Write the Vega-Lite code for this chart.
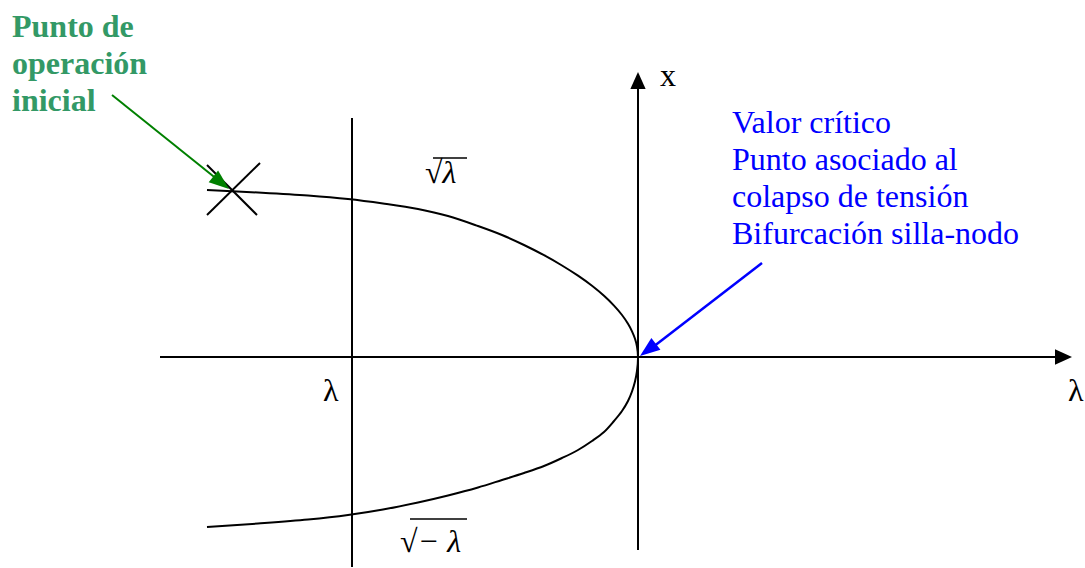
{
  "$schema": "https://vega.github.io/schema/vega-lite/v6.json",
  "width": 1085,
  "height": 568,
  "autosize": {"type": "fit", "contains": "padding"},
  "padding": 0,
  "background": "white",
  "config": {"view": {"stroke": null}},
  "datasets": {
    "segBlack": [
      {"l": -9.56, "v": 0, "l2": 8.4, "v2": 0},
      {"l": 0, "v": -3.86, "l2": 0, "v2": 5.5},
      {"l": -5.72, "v": 4.78, "l2": -5.72, "v2": -4.2},
      {"l": -8.62, "v": 3.84, "l2": -7.62, "v2": 2.84},
      {"l": -8.62, "v": 2.84, "l2": -7.56, "v2": 3.88}
    ],
    "overlines": [
      {"l": -4.1, "v": 3.98, "l2": -3.42, "v2": 3.98},
      {"l": -4.56, "v": -3.24, "l2": -3.42, "v2": -3.24}
    ],
    "segGreen": [{"l": -10.52, "v": 5.24, "l2": -8.4, "v2": 3.54}],
    "segBlue": [{"l": 2.48, "v": 1.88, "l2": 0.3, "v2": 0.2}],
    "curve": [
      {"o": 1, "l": -8.62, "v": 3.34},
      {"o": 2, "l": -7.6, "v": 3.29},
      {"o": 3, "l": -6.6, "v": 3.23},
      {"o": 4, "l": -5.8, "v": 3.16},
      {"o": 5, "l": -5.1, "v": 3.07},
      {"o": 6, "l": -4.4, "v": 2.96},
      {"o": 7, "l": -3.8, "v": 2.82},
      {"o": 8, "l": -3.2, "v": 2.62},
      {"o": 9, "l": -2.72, "v": 2.44},
      {"o": 10, "l": -2.28, "v": 2.24},
      {"o": 11, "l": -1.88, "v": 2.036},
      {"o": 12, "l": -1.52, "v": 1.83},
      {"o": 13, "l": -1.2, "v": 1.626},
      {"o": 14, "l": -0.92, "v": 1.424},
      {"o": 15, "l": -0.68, "v": 1.224},
      {"o": 16, "l": -0.48, "v": 1.028},
      {"o": 17, "l": -0.32, "v": 0.84},
      {"o": 18, "l": -0.2, "v": 0.664},
      {"o": 19, "l": -0.12, "v": 0.514},
      {"o": 20, "l": -0.06, "v": 0.364},
      {"o": 21, "l": -0.02, "v": 0.21},
      {"o": 22, "l": 0, "v": 0},
      {"o": 23, "l": -0.02, "v": -0.28},
      {"o": 24, "l": -0.06, "v": -0.49},
      {"o": 25, "l": -0.12, "v": -0.69},
      {"o": 26, "l": -0.2, "v": -0.88},
      {"o": 27, "l": -0.32, "v": -1.08},
      {"o": 28, "l": -0.48, "v": -1.28},
      {"o": 29, "l": -0.68, "v": -1.5},
      {"o": 30, "l": -0.92, "v": -1.68},
      {"o": 31, "l": -1.2, "v": -1.86},
      {"o": 32, "l": -1.52, "v": -2.02},
      {"o": 33, "l": -1.88, "v": -2.18},
      {"o": 34, "l": -2.28, "v": -2.32},
      {"o": 35, "l": -2.72, "v": -2.46},
      {"o": 36, "l": -3.2, "v": -2.61},
      {"o": 37, "l": -3.8, "v": -2.77},
      {"o": 38, "l": -4.4, "v": -2.91},
      {"o": 39, "l": -5.1, "v": -3.05},
      {"o": 40, "l": -5.8, "v": -3.16},
      {"o": 41, "l": -6.6, "v": -3.25},
      {"o": 42, "l": -7.6, "v": -3.33},
      {"o": 43, "l": -8.62, "v": -3.4}
    ],
    "headRight": [{"l": 8.68, "v": 0}],
    "headUp": [{"l": 0, "v": 5.7}],
    "headGreen": [{"l": -8.18, "v": 3.36}],
    "headBlue": [{"l": 0.04, "v": 0.02}],
    "greenText": [
      {"t": "Punto de", "l": -12.52, "v": 6.4},
      {"t": "operación", "l": -12.52, "v": 5.66},
      {"t": "inicial", "l": -12.52, "v": 4.92}
    ],
    "blueText": [
      {"t": "Valor crítico", "l": 1.88, "v": 4.48},
      {"t": "Punto asociado al", "l": 1.88, "v": 3.74},
      {"t": "colapso de tensión", "l": 1.88, "v": 3.0},
      {"t": "Bifurcación silla-nodo", "l": 1.88, "v": 2.26}
    ],
    "plainText": [
      {"t": "x", "l": 0.44, "v": 5.42},
      {"t": "λ", "l": -6.3, "v": -0.88},
      {"t": "λ", "l": 8.6, "v": -0.88}
    ],
    "rootText": [
      {"t": "√λ", "l": -4.26, "v": 3.48},
      {"t": "√− λ", "l": -4.76, "v": -3.9}
    ]
  },
  "encoding": {
    "x": {"field": "l", "type": "quantitative", "scale": {"domain": [-12.76, 8.94], "nice": false, "zero": false}, "axis": null},
    "y": {"field": "v", "type": "quantitative", "scale": {"domain": [-4.22, 7.14], "nice": false, "zero": false}, "axis": null}
  },
  "layer": [
    {
      "data": {"name": "segBlack"},
      "mark": {"type": "rule", "color": "black", "strokeWidth": 2},
      "encoding": {"x2": {"field": "l2"}, "y2": {"field": "v2"}}
    },
    {
      "data": {"name": "overlines"},
      "mark": {"type": "rule", "color": "black", "strokeWidth": 1.3},
      "encoding": {"x2": {"field": "l2"}, "y2": {"field": "v2"}}
    },
    {
      "data": {"name": "segGreen"},
      "mark": {"type": "rule", "color": "#008000", "strokeWidth": 2},
      "encoding": {"x2": {"field": "l2"}, "y2": {"field": "v2"}}
    },
    {
      "data": {"name": "segBlue"},
      "mark": {"type": "rule", "color": "#0000ff", "strokeWidth": 2.5},
      "encoding": {"x2": {"field": "l2"}, "y2": {"field": "v2"}}
    },
    {
      "data": {"name": "curve"},
      "mark": {"type": "line", "color": "black", "strokeWidth": 2, "interpolate": "catmull-rom"},
      "encoding": {"order": {"field": "o", "type": "quantitative"}}
    },
    {
      "data": {"name": "headRight"},
      "mark": {"type": "point", "shape": "M0,0L-2,-0.9L-2,0.9Z", "size": 289, "filled": true, "color": "black", "opacity": 1, "angle": 0}
    },
    {
      "data": {"name": "headUp"},
      "mark": {"type": "point", "shape": "M0,0L-2,-0.9L-2,0.9Z", "size": 289, "filled": true, "color": "black", "opacity": 1, "angle": 270}
    },
    {
      "data": {"name": "headGreen"},
      "mark": {"type": "point", "shape": "M0,0L-2,-0.75L-2,0.75Z", "size": 400, "filled": true, "color": "#008000", "opacity": 1, "angle": 38.8}
    },
    {
      "data": {"name": "headBlue"},
      "mark": {"type": "point", "shape": "M0,0L-2,-0.75L-2,0.75Z", "size": 400, "filled": true, "color": "#0000ff", "opacity": 1, "angle": 142.7}
    },
    {
      "data": {"name": "greenText"},
      "mark": {"type": "text", "align": "left", "baseline": "alphabetic", "font": "Liberation Serif", "fontSize": 32, "fontWeight": "bold", "color": "#339966"},
      "encoding": {"text": {"field": "t"}}
    },
    {
      "data": {"name": "blueText"},
      "mark": {"type": "text", "align": "left", "baseline": "alphabetic", "font": "Liberation Serif", "fontSize": 32, "color": "#0000ff"},
      "encoding": {"text": {"field": "t"}}
    },
    {
      "data": {"name": "plainText"},
      "mark": {"type": "text", "align": "left", "baseline": "alphabetic", "font": "Liberation Serif", "fontSize": 32, "color": "black"},
      "encoding": {"text": {"field": "t"}}
    },
    {
      "data": {"name": "rootText"},
      "mark": {"type": "text", "align": "left", "baseline": "alphabetic", "font": "Liberation Serif", "fontSize": 32, "fontStyle": "italic", "color": "black"},
      "encoding": {"text": {"field": "t"}}
    }
  ]
}
